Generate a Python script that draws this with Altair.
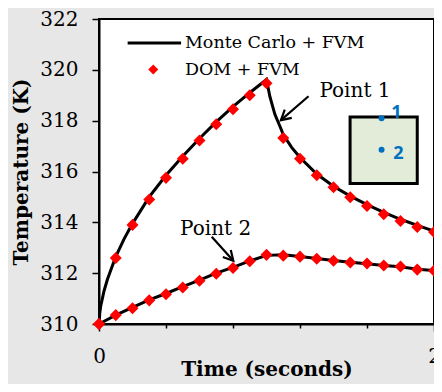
import math
import altair as alt
import pandas as pd

# ---- Monte Carlo + FVM (solid lines) ----
mc1_t = [0, 0.005, 0.01, 0.02, 0.03, 0.05, 0.075, 0.1, 0.15, 0.2, 0.3, 0.4, 0.5,
         0.6, 0.7, 0.8, 0.9, 1.0, 1.02, 1.05, 1.08, 1.1, 1.15, 1.2, 1.3, 1.4,
         1.5, 1.6, 1.7, 1.8, 1.9, 2.0]
mc1_T = [310.0, 310.45, 310.7, 311.0, 311.3, 311.75, 312.2, 312.65, 313.35, 313.95,
         315.0, 315.85, 316.6, 317.3, 317.95, 318.55, 319.1, 319.62, 318.95, 318.25,
         317.78, 317.45, 316.95, 316.55, 315.9, 315.42, 315.03, 314.7, 314.39,
         314.12, 313.88, 313.66]
mc2_t = [0, 0.1, 0.2, 0.3, 0.4, 0.5, 0.6, 0.7, 0.8, 0.9, 1.0, 1.1, 1.2, 1.3, 1.4,
         1.5, 1.6, 1.7, 1.8, 1.9, 2.0]
mc2_T = [310.0, 310.35, 310.65, 310.95, 311.2, 311.47, 311.73, 312.0, 312.23,
         312.48, 312.7, 312.72, 312.66, 312.58, 312.5, 312.43, 312.37, 312.3,
         312.25, 312.15, 312.1]

# ---- DOM + FVM (diamond markers) ----
dom_t = [0.0, 0.1, 0.2, 0.3, 0.4, 0.5, 0.6, 0.7, 0.8, 0.9, 1.0, 1.1, 1.2, 1.3,
         1.4, 1.5, 1.6, 1.7, 1.8, 1.9, 2.0]
dom1_T = [310.0, 312.6, 313.9, 314.9, 315.75, 316.5, 317.22, 317.86, 318.45, 319.0,
          319.47, 317.32, 316.5, 315.85, 315.38, 314.99, 314.64, 314.32, 314.05,
          313.82, 313.62]
dom2_T = [310.0, 310.35, 310.62, 310.93, 311.17, 311.44, 311.7, 311.98, 312.2,
          312.47, 312.72, 312.69, 312.65, 312.57, 312.49, 312.42, 312.38, 312.3,
          312.26, 312.14, 312.1]

# ---- axes ----
x_ticks = [0, 0.2, 0.4, 0.6, 0.8, 1, 1.2, 1.4, 1.6, 1.8, 2]
y_ticks = [310, 310.5, 311, 311.5, 312, 312.5, 313, 313.5, 314, 314.5, 315, 315.5,
           316, 316.5, 317, 317.5, 318, 318.5, 319, 319.5, 320, 320.5, 321, 321.5, 322]

# ---- annotations (data units) ----
legend_labels = ["Monte Carlo + FVM", "DOM + FVM"]
legend_line_t = [0.171, 0.49]
legend_line_T = 321.06
legend_mark_t = 0.324
legend_mark_T = 320.01
legend_text_t = 0.513
legend_text_T = [320.87, 319.78]

point_labels = ["Point 1", "Point 2"]
point_label_t = [1.316, 0.484]
point_label_T = [318.92, 313.5]
arrow_t = [1.251, 0.673]
arrow_T = [318.96, 313.43]
arrow_t2 = [1.086, 0.802]
arrow_T2 = [318.02, 312.49]

inset_t = [1.499, 1.90]
inset_T = [315.53, 318.14]
inset_dot_t = [1.687, 1.687]
inset_dot_T = [318.10, 316.86]
inset_labels = ["1", "2"]
inset_label_t = [1.776, 1.788]
inset_label_T = [318.3, 316.70]

W, H = 335, 305
SERIF = "DejaVu Serif"

xs = alt.Scale(domain=[0, 2], nice=False)
ys = alt.Scale(domain=[310, 322], nice=False)

x_axis = alt.Axis(
    values=x_ticks, title="Time (seconds)", grid=False, labelFlush=False,
    labelExpr="abs(datum.value - round(datum.value)) < 0.001 ? format(datum.value, 'd') : ''",
    tickSize={"condition": {"test": "abs(datum.value - round(datum.value)) < 0.001", "value": 7}, "value": 4},
    labelPadding=15, titlePadding=-7,
)
y_axis = alt.Axis(
    values=y_ticks, title="Temperature (K)", grid=False,
    labelExpr="datum.value % 2 === 0 ? datum.value : ''",
    tickSize={"condition": {"test": "datum.value % 2 === 0", "value": 7}, "value": 4},
    labelPadding=14, titlePadding=8,
)

mc = pd.DataFrame({"t": mc1_t + mc2_t, "T": mc1_T + mc2_T,
                   "s": ["p1"] * len(mc1_t) + ["p2"] * len(mc2_t)})
dom = pd.DataFrame({"t": dom_t + dom_t, "T": dom1_T + dom2_T,
                    "s": ["p1"] * len(dom_t) + ["p2"] * len(dom_t)})

lines = alt.Chart(mc).mark_line(color="black", strokeWidth=3).encode(
    x=alt.X("t:Q", scale=xs, axis=x_axis),
    y=alt.Y("T:Q", scale=ys, axis=y_axis),
    detail="s:N",
)
points = alt.Chart(dom).mark_point(shape="diamond", filled=True, color="#ff0000",
                                   size=145, opacity=1, clip=False).encode(
    x="t:Q", y="T:Q")

inset = alt.Chart(pd.DataFrame({"t": [inset_t[0]], "t2": [inset_t[1]],
                                "T": [inset_T[0]], "T2": [inset_T[1]]})).mark_rect(
    fill="#e2ecd8", stroke="black", strokeWidth=3).encode(
    x="t:Q", x2="t2:Q", y="T:Q", y2="T2:Q")
dots = alt.Chart(pd.DataFrame({"t": inset_dot_t, "T": inset_dot_T})).mark_circle(
    color="#0070c0", size=36, opacity=1).encode(x="t:Q", y="T:Q")
dot_labels = alt.Chart(pd.DataFrame({"t": inset_label_t, "T": inset_label_T,
                                     "l": inset_labels})).mark_text(
    font="Open Sans", fontSize=18, fontWeight="bold", color="#0070c0",
    align="center", baseline="middle").encode(x="t:Q", y="T:Q", text="l:N")

pl = alt.Chart(pd.DataFrame({"t": point_label_t, "T": point_label_T,
                             "l": point_labels})).mark_text(
    font=SERIF, fontSize=20, color="black", align="left",
    baseline="alphabetic").encode(x="t:Q", y="T:Q", text="l:N")

sx, sy = W / 2.0, H / 12.0
angles = []
for a, b, c, d in zip(arrow_t, arrow_T, arrow_t2, arrow_T2):
    dx = (c - a) * sx
    dy = -(d - b) * sy
    angles.append((math.degrees(math.atan2(dx, -dy)) + 360) % 360)
arr = pd.DataFrame({"t": arrow_t, "T": arrow_T, "t2": arrow_t2, "T2": arrow_T2,
                    "ang": angles})
arrow_lines = alt.Chart(arr).mark_rule(color="black", strokeWidth=2.2).encode(
    x="t:Q", y="T:Q", x2="t2:Q", y2="T2:Q")
arrow_heads = alt.Chart(arr).mark_point(
    shape="M-0.55,1 L0,0 L0.55,1", filled=False, color="black", strokeWidth=2.2,
    size=380, opacity=1).encode(x="t2:Q", y="T2:Q", angle=alt.Angle("ang:Q", scale=None))

leg_line = alt.Chart(pd.DataFrame({"t": [legend_line_t[0]], "t2": [legend_line_t[1]],
                                   "T": [legend_line_T]})).mark_rule(
    color="black", strokeWidth=3).encode(x="t:Q", x2="t2:Q", y="T:Q")
leg_mark = alt.Chart(pd.DataFrame({"t": [legend_mark_t], "T": [legend_mark_T]})).mark_point(
    shape="diamond", filled=True, color="#ff0000", size=100, opacity=1).encode(x="t:Q", y="T:Q")
leg_text = alt.Chart(pd.DataFrame({"t": [legend_text_t] * 2, "T": legend_text_T,
                                   "l": legend_labels})).mark_text(
    font=SERIF, fontSize=17.5, color="black", align="left",
    baseline="alphabetic").encode(x="t:Q", y="T:Q", text="l:N")

chart = alt.layer(
    lines, points, inset, dots, dot_labels, pl, arrow_lines, arrow_heads,
    leg_line, leg_mark, leg_text
).properties(
    width=W, height=H,
    autosize=alt.AutoSizeParams(type="none"),
    padding={"left": 91, "top": 11, "right": 0, "bottom": 60},
    background="#e7e7e7",
).configure_view(
    fill="white", stroke="black", strokeWidth=2
).configure_axis(
    labelFont=SERIF, labelFontSize=20, labelColor="black",
    titleFont=SERIF, titleFontSize=20, titleFontWeight="bold", titleColor="black",
    domainColor="black", domainWidth=2, tickColor="black", tickWidth=1.5,
)

chart.save("out.html", embed_options={"renderer": "svg", "actions": False})
